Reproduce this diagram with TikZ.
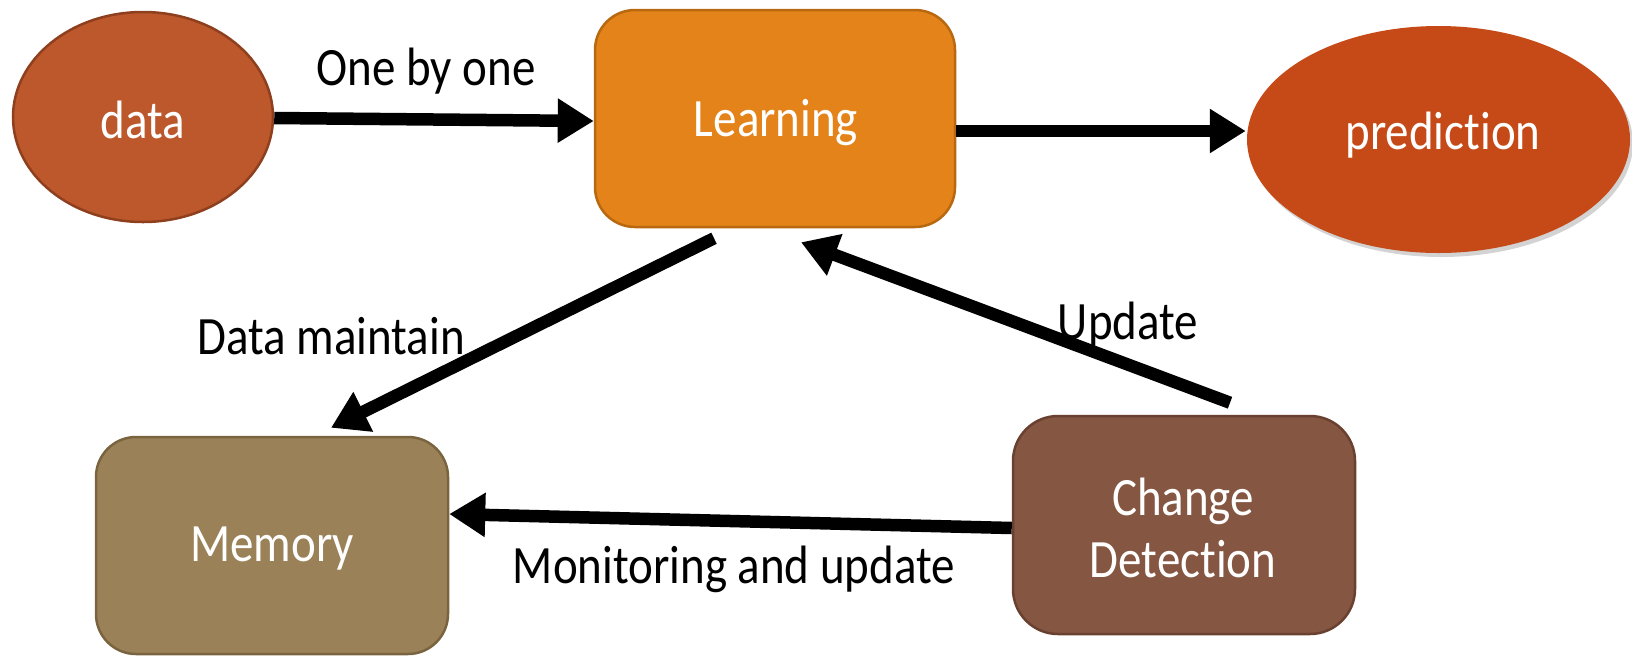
\documentclass[tikz,border=0pt]{standalone}
\usepackage{fontspec}
\setmainfont{Carlito}[FakeStretch=0.87,Ligatures=NoCommon]
\usetikzlibrary{arrows.meta,calc,shapes.geometric,shadows}
\definecolor{dataC}{HTML}{BD582C}
\definecolor{dataB}{HTML}{8E3F1E}
\definecolor{learnC}{HTML}{E3831A}
\definecolor{learnB}{HTML}{B8680F}
\definecolor{predC}{HTML}{C54A17}
\definecolor{memC}{HTML}{9B8157}
\definecolor{memB}{HTML}{7A6440}
\definecolor{chgC}{HTML}{855641}
\definecolor{chgB}{HTML}{6A4030}
\tikzset{
  txt/.style={font=\fontsize{54}{62}\selectfont, inner sep=0pt},
  wtxt/.style={txt, text=white},
  ell/.style={ellipse, inner sep=0pt, line width=2.5pt},
  rbox/.style={rounded corners=40pt, line width=2.5pt, inner sep=0pt},
  conn/.style={line width=12.5pt, -{Triangle[length=36pt,width=42pt]}, black},
}
\begin{document}
\begin{tikzpicture}[x=1pt,y=-1pt]
\useasboundingbox (0,0) rectangle (1632,657);
% shapes
\node[ell, draw=dataB, fill=dataC, minimum width=260pt, minimum height=210pt] (data) at (143,117) {};
\node[rbox, draw=learnB, fill=learnC, minimum width=360pt, minimum height=217pt] (learn) at (775,118.5) {};
\node[ell, fill=predC, minimum width=383pt, minimum height=227pt, drop shadow={opacity=0.35, shadow xshift=3pt, shadow yshift=-4pt}] (pred) at (1438.5,139.5) {};
\node[rbox, draw=memB, fill=memC, minimum width=352pt, minimum height=217pt] (mem) at (272,545.5) {};
\node[rbox, rounded corners=45pt, draw=chgB, fill=chgC, minimum width=342pt, minimum height=218pt] (chg) at (1184,525) {};
% texts in shapes
\node[wtxt] (tdata) at (143,120) {data};
\node[wtxt] (tlearn) at (776,123) {Learning};
\node[wtxt] (tpred) at (1443,135) {prediction};
\node[wtxt] (tmem) at (272,549) {Memory};
\node[wtxt, align=center] (tchg) at (1183,528) {Change\\Detection};
% connectors
\draw[conn] ($(data.east)+(0,1)$) -- ($(learn.west)+(0,2.5)$);
\draw[conn] ($(learn.east)+(0,12.5)$) -- ($(pred.west)+(0,-8.5)$);
\draw[conn] ($(learn.south)+(-61,10)$) -- ($(mem.north)+(59,-8)$);
\draw[conn] ($(chg.north)+(46,-12)$) -- ($(learn.south)+(26,14)$);
\draw[conn] ($(chg.west)+(0,3)$) -- ($(mem.east)+(0,-31.5)$);
% labels
\node[txt] (l1) at (426,71) {One by one};
\node[txt] (l2) at (331,336) {Data maintain};
\node[txt] (l3) at (1128,325) {Update};
\node[txt] (l4) at (734,569) {Monitoring and update};
\end{tikzpicture}
\end{document}
